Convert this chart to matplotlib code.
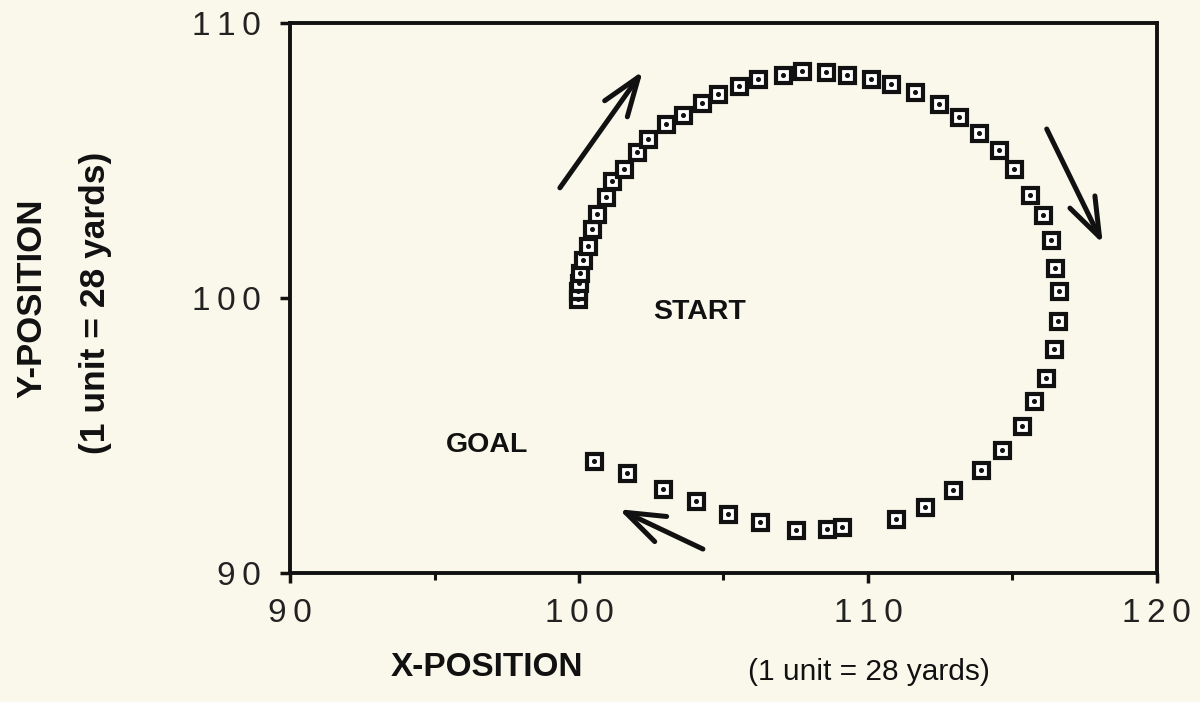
#!/usr/bin/env python3
import matplotlib as mpl
mpl.use('Agg')
import matplotlib.pyplot as plt
from matplotlib.ticker import MultipleLocator, FuncFormatter

# track points (start at 100,100 then clockwise)
x_pos = [99.97, 99.97, 100.0, 100.03, 100.14, 100.31, 100.45, 100.62, 100.93, 101.14,
         101.56, 102.01, 102.39, 103.01, 103.60, 104.26, 104.81, 105.54, 106.19, 107.06,
         107.72, 108.55, 109.27, 110.10, 110.80, 111.63, 112.46, 113.15, 113.84, 114.53,
         115.05, 115.61, 116.06, 116.33, 116.47, 116.61, 116.57, 116.44, 116.16, 115.74,
         115.33, 114.64, 113.91, 112.94, 111.97, 110.97, 109.10, 108.58, 107.51, 106.26,
         105.16, 104.05, 102.91, 101.66, 100.52]
y_pos = [99.98, 100.27, 100.56, 100.93, 101.40, 101.91, 102.52, 103.07, 103.68, 104.26,
         104.70, 105.32, 105.79, 106.33, 106.66, 107.10, 107.42, 107.71, 107.97, 108.11,
         108.26, 108.22, 108.11, 107.97, 107.79, 107.50, 107.06, 106.59, 106.01, 105.39,
         104.70, 103.76, 103.03, 102.12, 101.11, 100.24, 99.18, 98.13, 97.11, 96.24,
         95.34, 94.46, 93.74, 93.01, 92.40, 91.96, 91.67, 91.60, 91.56, 91.85,
         92.14, 92.61, 93.05, 93.63, 94.07]

# direction arrows: (tail, tip)
arrows = [((99.34, 104.01), (102.21, 108.26)),
          ((116.19, 106.15), (118.13, 101.98)),
          ((104.29, 90.87), (101.38, 92.32))]

labels = [("START", 104.19, 99.51), ("GOAL", 96.82, 94.65)]

bg = '#faf8ea'


def spaced(v, pos):
    # old plotter font had wide letter spacing
    return '\u2009'.join(str(int(round(v))))


def main():
    plt.rcParams['font.family'] = ['Liberation Sans', 'DejaVu Sans']
    fig = plt.figure(figsize=(12, 7.02), dpi=100, facecolor=bg)
    ax = fig.add_axes([0.2417, 0.1838, 0.7223, 0.7832])
    ax.set_facecolor(bg)

    ax.plot(x_pos, y_pos, 's', ms=10.8, mfc='white', mec='#111111', mew=3.0, zorder=3)
    ax.plot(x_pos, y_pos, 'o', ms=2.6, color='#111111', zorder=4)

    for tail, tip in arrows:
        ax.annotate('', xy=tip, xytext=tail,
                    arrowprops=dict(arrowstyle='->,head_length=2.8,head_width=1.0',
                                    lw=3.6, color='#111111', shrinkA=0, shrinkB=0))

    for txt, x, y in labels:
        ax.text(x, y, txt, ha='center', va='center', fontsize=20.5,
                fontweight='bold', color='#111111')

    ax.set_xlim(90, 120)
    ax.set_ylim(90, 110)
    ax.xaxis.set_major_locator(MultipleLocator(10))
    ax.xaxis.set_minor_locator(MultipleLocator(5))
    ax.yaxis.set_major_locator(MultipleLocator(10))
    ax.xaxis.set_major_formatter(FuncFormatter(spaced))
    ax.yaxis.set_major_formatter(FuncFormatter(spaced))

    for sp in ax.spines.values():
        sp.set_linewidth(2.8)
        sp.set_color('#111111')
    ax.tick_params(which='major', direction='out', length=7, width=2.5,
                   labelsize=24, color='#111111', labelcolor='#222222')
    ax.tick_params(axis='x', which='major', pad=11)
    ax.tick_params(axis='y', which='major', pad=14)
    ax.tick_params(which='minor', direction='out', length=5, width=2.2, color='#111111')

    fig.text(487 / 1200, 1 - 668 / 702, 'X-POSITION', ha='center', va='center',
             fontsize=24, fontweight='bold', color='#111111')
    fig.text(869 / 1200, 1 - 672 / 702, '(1 unit = 28 yards)', ha='center', va='center',
             fontsize=21.5, color='#111111')
    fig.text(32 / 1200, 1 - 298 / 702, 'Y-POSITION', ha='center', va='center',
             rotation=90, fontsize=25, fontweight='bold', color='#111111')
    fig.text(96 / 1200, 1 - 303 / 702, '(1 unit = 28 yards)', ha='center', va='center',
             rotation=90, fontsize=25.5, fontweight='bold', color='#111111')

    fig.savefig('out.png', dpi=100, facecolor=bg)


if __name__ == '__main__':
    main()
